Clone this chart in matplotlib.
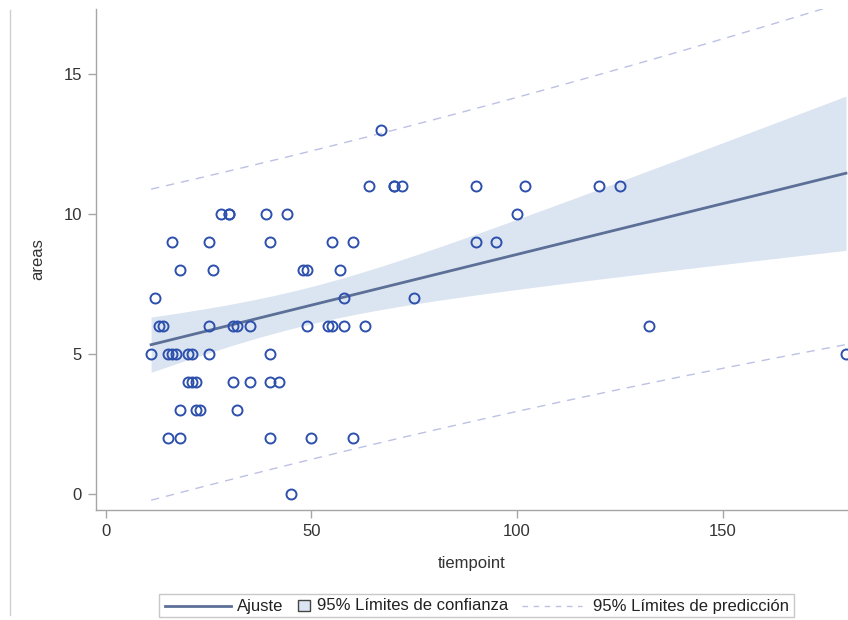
import matplotlib.pyplot as plt
import numpy as np
from matplotlib.lines import Line2D
from matplotlib.patches import Rectangle

# tiempoint values grouped by their areas value (repeats are overlapping circles)
t13 = [67]
t11 = [64, 70, 70, 72, 90, 102, 120, 125]
t10 = [28, 30, 30, 39, 44, 100]
t9 = [16, 25, 40, 55, 60, 90, 95]
t8 = [18, 26, 48, 49, 57]
t7 = [12, 58, 75]
t6 = [13, 14, 25, 31, 32, 35, 49, 54, 55, 58, 63, 132]
t5 = [11, 15, 16, 17, 20, 21, 25, 40, 180]
t4 = [20, 21, 22, 31, 35, 40, 42]
t3 = [18, 22, 23, 32]
t2 = [15, 18, 40, 50, 60]
t0 = [45]

groups = {13: t13, 11: t11, 10: t10, 9: t9, 8: t8, 7: t7, 6: t6,
          5: t5, 4: t4, 3: t3, 2: t2, 0: t0}
tiempoint = np.array([t for a, ts in groups.items() for t in ts], dtype=float)
areas = np.array([a for a, ts in groups.items() for t in ts], dtype=float)

# ordinary least squares with 95% confidence and prediction limits
n = len(tiempoint)
b1, b0 = np.polyfit(tiempoint, areas, 1)
resid = areas - (b0 + b1 * tiempoint)
s = np.sqrt(np.sum(resid ** 2) / (n - 2))
xm = tiempoint.mean()
sxx = np.sum((tiempoint - xm) ** 2)
tcrit = 1.996  # t(0.975, n-2)
xs = np.linspace(tiempoint.min(), tiempoint.max(), 200)
fit = b0 + b1 * xs
se_mean = s * np.sqrt(1.0 / n + (xs - xm) ** 2 / sxx)
se_pred = s * np.sqrt(1.0 + 1.0 / n + (xs - xm) ** 2 / sxx)

blue = '#2d50ad'
line_col = '#5c7097'
band_col = '#dbe4f1'
pred_col = '#bdc1e4'
axis_col = '#a6a6a6'
txt_col = '#333333'

plt.rcParams['font.family'] = ['Liberation Sans', 'DejaVu Sans']

fig = plt.figure(figsize=(8.48, 6.2), dpi=100)
ax = fig.add_axes([96 / 848, 1 - 510 / 620, 1 - 96 / 848, (510 - 9) / 620])

ax.fill_between(xs, fit - tcrit * se_mean, fit + tcrit * se_mean,
                color=band_col, lw=0, zorder=1)
ax.plot(xs, fit, color=line_col, lw=2.0, zorder=2)
ax.plot(xs, fit + tcrit * se_pred, color=pred_col, lw=1.0,
        dashes=(6, 5), zorder=2)
ax.plot(xs, fit - tcrit * se_pred, color=pred_col, lw=1.0,
        dashes=(6, 5), zorder=2)
ax.plot(tiempoint, areas, 'o', mfc='none', mec=blue, ms=7.2, mew=1.4,
        zorder=3)

ax.set_xlim(-2.4, 180.5)
ax.set_ylim(-0.57, 17.32)
ax.set_xticks([0, 50, 100, 150])
ax.set_yticks([0, 5, 10, 15])
for side in ['top', 'right']:
    ax.spines[side].set_visible(False)
for side in ['left', 'bottom']:
    ax.spines[side].set_color(axis_col)
    ax.spines[side].set_linewidth(1.0)
ax.tick_params(colors=axis_col, labelcolor=txt_col, labelsize=12,
               length=6, width=1.0, pad=4)
ax.set_xlabel('tiempoint', fontsize=12, color=txt_col, labelpad=12)
ax.set_ylabel('areas', fontsize=12, color=txt_col, labelpad=13)

# outer frame line on the left
fig.add_artist(Line2D([10 / 848, 10 / 848], [1 - 615 / 620, 1 - 10 / 620],
                      color='#cfcfcf', lw=1.0))

# legend drawn by hand so each key keeps its own width
W, H = 848.0, 620.0
def fx(px):
    return px / W
def fy(py):
    return 1 - py / H

ly = 606
fig.add_artist(Rectangle((fx(159), fy(617)), fx(794) - fx(159), fy(594) - fy(617),
                         transform=fig.transFigure, fill=False,
                         edgecolor='#c8c8c8', lw=1.0))
fig.add_artist(Line2D([fx(165), fx(231)], [fy(ly), fy(ly)], color=line_col, lw=2.0))
fig.text(fx(237), fy(ly), 'Ajuste', fontsize=12, color='#222222', va='center')
fig.add_artist(Rectangle((fx(298), fy(611)), fx(310) - fx(298), fy(600) - fy(611),
                         transform=fig.transFigure, facecolor=band_col,
                         edgecolor='#444444', lw=1.0))
fig.text(fx(317), fy(ly), '95% Límites de confianza', fontsize=12,
         color='#222222', va='center')
fig.add_artist(Line2D([fx(522), fx(582)], [fy(ly), fy(ly)], color=pred_col,
                      lw=1.0, dashes=(4, 4)))
fig.text(fx(593), fy(ly), '95% Límites de predicción', fontsize=12,
         color='#222222', va='center')

plt.savefig('out.png', dpi=100)
